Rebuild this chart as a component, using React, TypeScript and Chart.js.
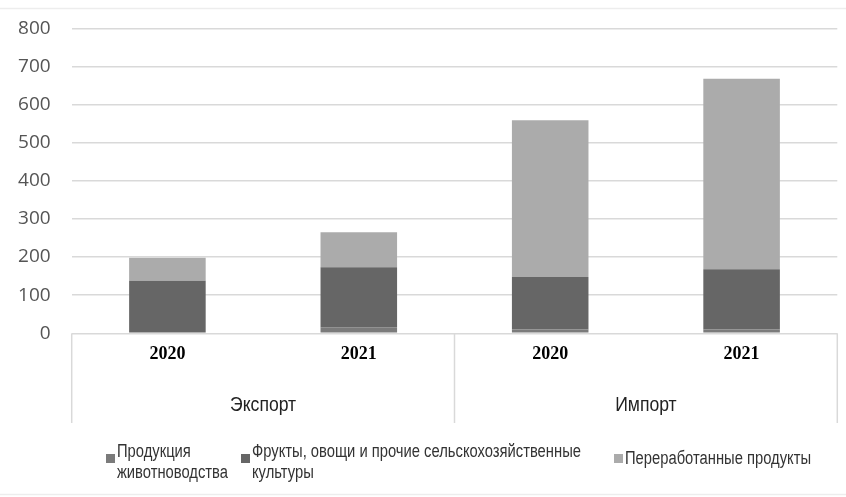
import React, { useEffect, useRef } from "react";
import { Chart, registerables } from "chart.js";

Chart.register(...registerables);

// ---- data ----
const years = ["2020", "2021", "2020", "2021"];
const groups = ["Экспорт", "Импорт"];
const groupSpans = [2, 2];
const seriesNames = [
  "Продукция животноводства",
  "Фрукты, овощи и прочие сельскохозяйственные культуры",
  "Переработанные продукты",
];
const livestock = [2, 16, 10, 10];
const crops = [136, 157, 138, 158];
const processed = [60, 92, 411, 500];
const yMin = 0;
const yMax = 800;
const yStep = 100;

// ---- styling ----
const seriesColors = ["#7b7b7b", "#666666", "#ababab"];
const legendX = [106, 241, 614];
const legendBreakAfterWords = [1, 5, 0];
const narrowFont = '"Liberation Sans", Arial, sans-serif';

function narrowText(ctx: CanvasRenderingContext2D, text: string, x: number, y: number, k: number) {
  ctx.save();
  ctx.translate(x, y);
  ctx.scale(k, 1);
  ctx.fillText(text, 0, 0);
  ctx.restore();
}

const multiAxisPlugin = {
  id: "multiAxis",
  beforeDraw(chart: any) {
    const ctx = chart.ctx;
    ctx.save();
    ctx.fillStyle = "#ffffff";
    ctx.fillRect(0, 0, chart.width, chart.height);
    ctx.strokeStyle = "#ededed";
    ctx.lineWidth = 1.5;
    ctx.beginPath();
    ctx.moveTo(0, 8.5);
    ctx.lineTo(chart.width, 8.5);
    ctx.moveTo(0, 494.5);
    ctx.lineTo(chart.width, 494.5);
    ctx.stroke();
    ctx.restore();
  },
  afterDraw(chart: any) {
    const ctx = chart.ctx;
    const xs = chart.scales.x;
    const area = chart.chartArea;
    ctx.save();
    // separators
    const bounds: number[] = [area.left];
    let idx = 0;
    groupSpans.forEach((span) => {
      idx += span;
      if (idx < years.length) {
        bounds.push((xs.getPixelForTick(idx - 1) + xs.getPixelForTick(idx)) / 2);
      } else {
        bounds.push(area.right);
      }
    });
    ctx.strokeStyle = "#d9d9d9";
    ctx.lineWidth = 1.5;
    bounds.forEach((b) => {
      ctx.beginPath();
      ctx.moveTo(b, area.bottom);
      ctx.lineTo(b, 423);
      ctx.stroke();
    });
    // group labels
    ctx.font = "20px " + narrowFont;
    ctx.fillStyle = "#222222";
    ctx.textAlign = "center";
    ctx.textBaseline = "alphabetic";
    let start = 0;
    groups.forEach((g, i) => {
      const span = groupSpans[i];
      const a = xs.getPixelForTick(start);
      const b = xs.getPixelForTick(start + span - 1);
      narrowText(ctx, g, (a + b) / 2, 411, 0.88);
      start += span;
    });
    // legend
    ctx.textAlign = "left";
    ctx.font = "18px " + narrowFont;
    chart.data.datasets.forEach((ds: any, i: number) => {
      const x0 = legendX[i];
      ctx.fillStyle = ds.backgroundColor;
      ctx.fillRect(x0, 454, 9, 9);
      ctx.fillStyle = "#333333";
      const words = String(ds.label).split(" ");
      const br = legendBreakAfterWords[i];
      if (br > 0) {
        narrowText(ctx, words.slice(0, br).join(" "), x0 + 11, 457, 0.82);
        narrowText(ctx, words.slice(br).join(" "), x0 + 11, 478, 0.82);
      } else {
        narrowText(ctx, words.join(" "), x0 + 11, 464, 0.82);
      }
    });
    ctx.restore();
  },
};

export default function App() {
  const ref = useRef<HTMLCanvasElement | null>(null);
  useEffect(() => {
    if (!ref.current) return;
    const chart = new Chart(ref.current, {
      type: "bar",
      data: {
        labels: years,
        datasets: [
          { label: seriesNames[0], data: livestock, backgroundColor: seriesColors[0] },
          { label: seriesNames[1], data: crops, backgroundColor: seriesColors[1] },
          { label: seriesNames[2], data: processed, backgroundColor: seriesColors[2] },
        ].map((d) => ({ ...d, borderWidth: 0, barPercentage: 0.4, categoryPercentage: 1 })),
      },
      options: {
        responsive: false,
        animation: false,
        layout: { padding: { top: 28.3, right: 8.7, left: 0, bottom: 0 } },
        plugins: { legend: { display: false }, tooltip: { enabled: false } },
        scales: {
          x: {
            stacked: true,
            grid: { display: false },
            border: { display: false },
            ticks: {
              color: "#000000",
              padding: 2,
              font: { family: '"Liberation Serif", "Times New Roman", serif', size: 18, weight: "bold" },
            },
            afterFit: (s: any) => {
              s.height = 163.7;
            },
          },
          y: {
            stacked: true,
            min: yMin,
            max: yMax,
            border: { display: false },
            grid: { color: "#d9d9d9", lineWidth: 1.5, drawTicks: false },
            ticks: {
              stepSize: yStep,
              color: "#555555",
              padding: 21,
              font: { family: '"Open Sans", sans-serif', size: 19 },
            },
            afterFit: (s: any) => {
              s.width = 71.7;
              s.paddingTop = 0;
              s.paddingBottom = 0;
            },
          },
        },
      },
      plugins: [multiAxisPlugin],
    } as any);
    return () => chart.destroy();
  }, []);
  return (
    <div style={{ position: "fixed", left: 0, top: 0, width: 846, height: 497, background: "#fff" }}>
      <canvas ref={ref} width={846} height={497} style={{ width: 846, height: 497, display: "block" }} />
    </div>
  );
}
